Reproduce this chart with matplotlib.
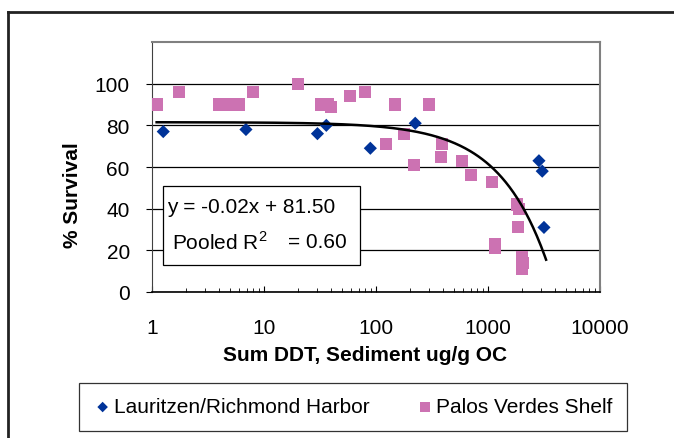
import matplotlib
matplotlib.use("Agg")
import matplotlib.pyplot as plt
import numpy as np
from matplotlib.lines import Line2D
from matplotlib.patches import Rectangle

plt.rcParams['font.family'] = ['Liberation Sans', 'DejaVu Sans']
plt.rcParams['mathtext.fontset'] = 'custom'
plt.rcParams['mathtext.rm'] = 'Liberation Sans'

# data
lauritzen_x = [1.26, 6.9, 30, 36, 89, 224, 2850, 3050, 3160]
lauritzen_y = [77, 78, 76, 80, 69, 81, 63, 58, 31]

palos_x = [1.1, 1.75, 4.0, 4.9, 6.0, 7.9, 20, 32, 37, 40, 59, 80, 123, 147,
           179, 220, 297, 380, 388, 582, 705, 1080, 1150, 1150, 1800, 1900,
           1870, 2000, 2050, 2000]
palos_y = [90, 96, 90, 90, 90, 96, 100, 90, 90, 89, 94, 96, 71, 90,
           76, 61, 90, 65, 71, 63, 56, 53, 23, 21, 42, 40,
           31, 17, 14, 11]

fit_slope = -0.02
fit_intercept = 81.5
fit_range = [1.1, 3300]

x_ticks = [1, 10, 100, 1000, 10000]
x_labels = ['1', '10', '100', '1000', '10000']
y_ticks = [0, 20, 40, 60, 80, 100]

blue = '#003399'
pink = '#cc72b2'
fs = 15

fig = plt.figure(figsize=(6.74, 4.39), dpi=100)
W, H = 674, 439
ax = fig.add_axes([152 / W, 1 - 293 / H, 448 / W, 250 / H])

ax.set_xscale('log')
ax.set_xlim(1, 10000)
ax.set_ylim(0, 120)

ax.scatter(lauritzen_x, lauritzen_y, marker='D', s=45, color=blue,
           edgecolors='none', zorder=3, label='Lauritzen/Richmond Harbor')
ax.scatter(palos_x, palos_y, marker='s', s=75, color=pink,
           edgecolors='none', zorder=3, label='Palos Verdes Shelf')

# trendline y = -0.02x + 81.50 drawn on the log axis
xf = np.geomspace(fit_range[0], fit_range[1], 300)
ax.plot(xf, fit_slope * xf + fit_intercept, color='black', lw=1.8, zorder=5)

ax.set_yticks(y_ticks)
ax.set_yticklabels([str(v) for v in y_ticks], fontsize=fs)
ax.set_xticks(x_ticks)
ax.set_xticklabels(x_labels, fontsize=fs)
ax.yaxis.grid(True, color='black', lw=0.9)
ax.set_axisbelow(True)

ax.tick_params(axis='y', direction='out', length=4, pad=12, color='black')
ax.tick_params(axis='x', which='major', direction='in', length=4, pad=19)
ax.tick_params(axis='x', which='minor', direction='in', length=3)

ax.spines['left'].set_color('#404040')
ax.spines['bottom'].set_color('black')
ax.spines['bottom'].set_linewidth(1.2)
ax.spines['top'].set_color('#808080')
ax.spines['right'].set_color('#808080')
ax.spines['top'].set_linewidth(1.5)
ax.spines['right'].set_linewidth(1.5)

# equation box
ax.add_patch(Rectangle((11 / 448, 27 / 250), 197 / 448, 79 / 250,
                       transform=ax.transAxes, facecolor='white',
                       edgecolor='black', lw=0.9, zorder=4))
ax.text(15 / 448, 85 / 250, 'y = -0.02x + 81.50', transform=ax.transAxes,
        fontsize=fs, va='center', ha='left', zorder=6)
ax.text(20 / 448, 50 / 250, 'Pooled R$^2$', transform=ax.transAxes,
        fontsize=fs, va='center', ha='left', zorder=6)
ax.text(136 / 448, 50 / 250, '= 0.60', transform=ax.transAxes,
        fontsize=fs, va='center', ha='left', zorder=6)

fig.text(73 / W, 1 - 195 / H, '% Survival', rotation=90, fontsize=fs,
         fontweight='bold', ha='center', va='center')
fig.text(365 / W, 1 - 356 / H, 'Sum DDT, Sediment ug/g OC', fontsize=fs,
         fontweight='bold', ha='center', va='center')

leg = fig.legend(loc='center', bbox_to_anchor=(353 / W, 1 - 408 / H),
                 ncol=2, fontsize=fs, frameon=True, fancybox=False,
                 markerscale=0.8, handletextpad=0.1, columnspacing=2.2,
                 borderpad=0.7, handlelength=0.9)
leg.get_frame().set_edgecolor('black')
leg.get_frame().set_linewidth(0.9)

# outer chart border (only top and left visible)
fig.add_artist(Line2D([8 / W, 8 / W], [0, 1 - 13 / H], color='#222222', lw=2))
fig.add_artist(Line2D([8 / W, 1], [1 - 13 / H, 1 - 13 / H], color='#222222', lw=2))

fig.savefig('out.png', dpi=100)
